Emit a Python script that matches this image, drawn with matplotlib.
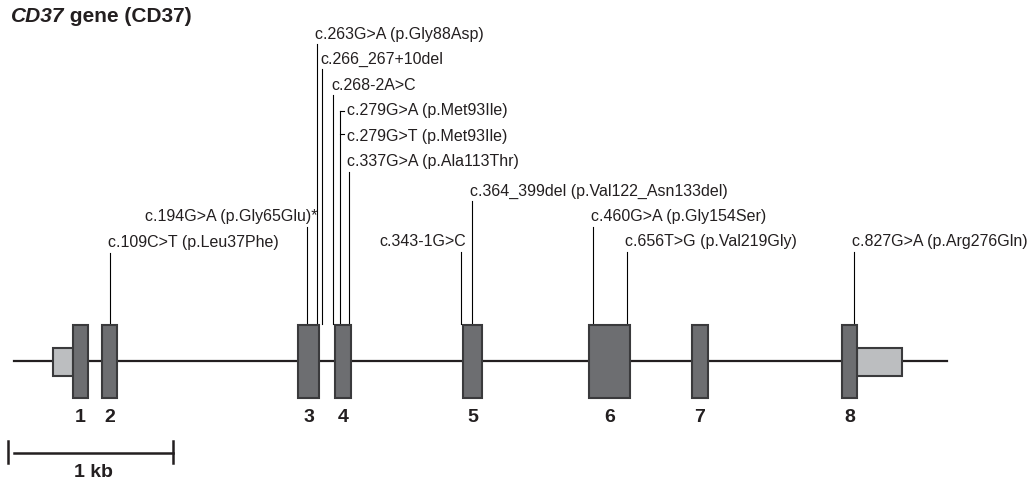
import matplotlib.pyplot as plt
from matplotlib.patches import Rectangle

plt.rcParams['font.family'] = ['Liberation Sans', 'DejaVu Sans']

# gene model, positions in bp from the start of the drawn region
gene_length = 5868
exon_numbers = ['1', '2', '3', '4', '5', '6', '7', '8']
exon_starts = [371, 553, 1786, 2019, 2824, 3616, 4264, 5208]
exon_ends = [465, 648, 1918, 2119, 2943, 3874, 4365, 5302]
utr_starts = [245, 5302]
utr_ends = [371, 5585]

# variants: label and position (bp)
variants = ['c.109C>T (p.Leu37Phe)',
            'c.194G>A (p.Gly65Glu)*',
            'c.263G>A (p.Gly88Asp)',
            'c.266_267+10del',
            'c.268-2A>C',
            'c.279G>A (p.Met93Ile)',
            'c.279G>T (p.Met93Ile)',
            'c.337G>A (p.Ala113Thr)',
            'c.343-1G>C',
            'c.364_399del (p.Val122_Asn133del)',
            'c.460G>A (p.Gly154Ser)',
            'c.656T>G (p.Val219Gly)',
            'c.827G>A (p.Arg276Gln)']
variant_pos = [604, 1843, 1906, 1937, 2006, 2050, 2050, 2107,
               2811, 2881, 3642, 3855, 5283]

# layout (pixels from top) for the label stack
label_y = [243, 217, 34, 59, 85, 110, 137, 162, 242, 191, 217, 242, 242]
label_ha = ['left', 'right', 'left', 'left', 'left', 'left', 'left', 'left',
            'right', 'left', 'left', 'left', 'left']
label_dx = [-2, 10, -2, -2, -2, 7, 7, -2, 5, -2, -2, -2, -2]

px_per_bp = 0.159
x0_px = 14

fig = plt.figure(figsize=(10.29, 4.85), dpi=100)
ax = fig.add_axes([0, 0, 1, 1])
ax.set_xlim(-x0_px / px_per_bp, (1029 - x0_px) / px_per_bp)
ax.set_ylim(485, 0)
ax.axis('off')


def px(v):
    # pixel width -> bp
    return v / px_per_bp


exon_fc = '#6d6e71'
utr_fc = '#bcbec0'
edge = '#3a3a3c'
ink = '#231f20'
backbone_y = 362

ax.plot([0, gene_length], [backbone_y, backbone_y], color=ink, lw=1.6, zorder=1)

for s, e in zip(utr_starts, utr_ends):
    ax.add_patch(Rectangle((s, 348.5), e - s, 28.5, facecolor=utr_fc,
                           edgecolor=edge, lw=1.5, zorder=2))
for s, e, n in zip(exon_starts, exon_ends, exon_numbers):
    ax.add_patch(Rectangle((s, 326), e - s, 73, facecolor=exon_fc,
                           edgecolor=edge, lw=1.5, zorder=3))
    ax.text((s + e) / 2, 418, n, ha='center', va='center',
            fontsize=14, fontweight='bold', color=ink)

# variant lines and labels
seen = {}
for lab, pos, y, ha, dx in zip(variants, variant_pos, label_y, label_ha, label_dx):
    top = y + 11
    if pos in seen:
        # second label sharing a line: bracket tick only
        ax.plot([pos, pos + px(4)], [y - 2, y - 2], color='black', lw=0.8)
    else:
        if lab.startswith('c.279'):
            top = y + 2
            ax.plot([pos, pos + px(4)], [top, top], color='black', lw=0.8)
        ax.plot([pos, pos], [top, 325], color='black', lw=0.8)
        seen[pos] = True
    ax.text(pos + px(dx), y, lab, ha=ha, va='center', fontsize=11.5, color=ink)

# title
t1 = ax.text(px(11) - px(x0_px), 17, 'CD37', fontsize=15, fontweight='bold',
             fontstyle='italic', va='center', ha='left', color=ink)
ax.annotate(' gene (CD37)', xy=(1, 0), xycoords=t1, va='bottom', ha='left',
            fontsize=15, fontweight='bold', color=ink)

# scale bar: 1 kb
ax.plot([0, 1000], [454, 454], color=ink, lw=1.8)
ax.plot([-px(6), -px(6)], [442, 464], color=ink, lw=1.8)
ax.plot([1000, 1000], [442, 464], color=ink, lw=1.8)
ax.text(500, 473, '1 kb', ha='center', va='center', fontsize=14,
        fontweight='bold', color=ink)

fig.savefig('out.png', dpi=100)
